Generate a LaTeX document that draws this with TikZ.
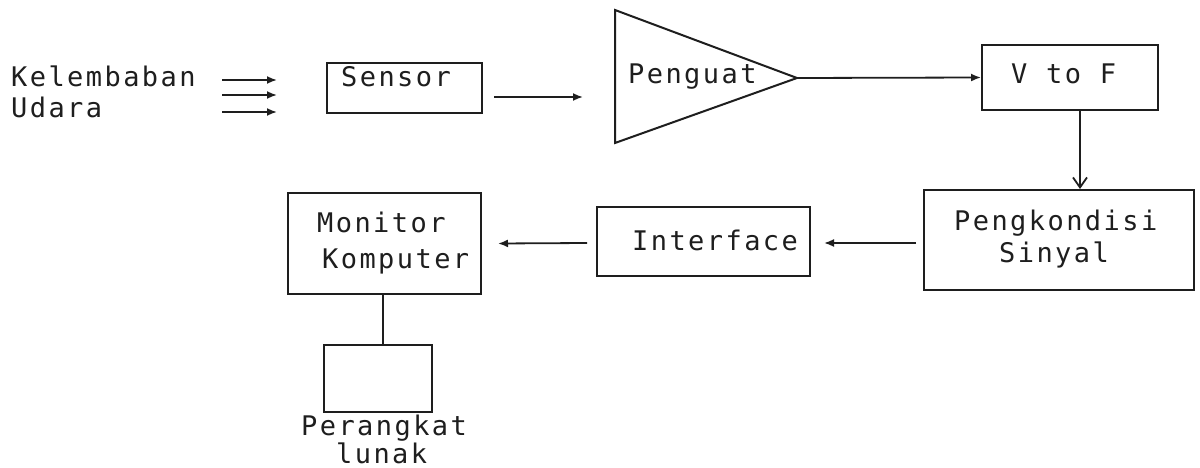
\documentclass[tikz,border=0pt]{standalone}
\usepackage{fontspec}
\newfontfamily\dm[LetterSpace=9]{DejaVu Sans Mono}
\usetikzlibrary{arrows.meta,calc}
\definecolor{ink}{HTML}{1E1E1E}
\begin{document}
\begin{tikzpicture}[x=1pt,y=-1pt,
  ln/.style={draw=ink,line width=2pt},
  boxst/.style={ln,rectangle,inner sep=0pt},
  arr/.style={ln,line width=1.8pt,-{Latex[length=10pt,width=8pt]}},
  barb/.style={ln,line width=1.8pt,-{Straight Barb[length=10pt,width=14pt,line width=1.8pt]}},
  txt/.style={anchor=base west,inner sep=0pt,text=ink,font=\dm\fontsize{27}{33}\selectfont}]
\useasboundingbox (0,0) rectangle (1200,468);
\fill[white] (0,0) rectangle (1200,468);

% input text
\node[txt] (kel) at (11,86.5) {Kelembaban};
\node[txt] (uda) at (11,118) {Udara};
\coordinate (i1s) at (222,80);  \coordinate (i1e) at (277,80);
\coordinate (i2s) at (222,95);  \coordinate (i2e) at (277,95);
\coordinate (i3s) at (222,112); \coordinate (i3e) at (277,112);
\draw[arr] (i1s) -- (i1e);
\draw[arr] (i2s) -- (i2e);
\draw[arr] (i3s) -- (i3e);

% sensor
\node[boxst,minimum width=155pt,minimum height=50pt] (sen) at (404.5,88) {};
\node[txt] (sent) at (341,87) {Sensor};

% penguat triangle
\coordinate (pA) at (615,10);
\coordinate (pB) at (615,143);
\coordinate (pC) at (797,78);
\draw[ln,line join=miter] (pA) -- (pC) -- (pB) -- cycle;
\node[txt] (pent) at (628,84) {Penguat};
\coordinate (pin) at (583,97);
\draw[arr] ($(sen.east)+(11,9)$) -- (pin);

% V to F
\node[boxst,minimum width=176pt,minimum height=65pt] (vtf) at (1070,77.5) {};
\node[txt] (vtft) at (1011,84) {V to F};
\draw[arr] (pC) -- (vtf.west);

% Pengkondisi Sinyal
\node[boxst,minimum width=270pt,minimum height=100pt] (pks) at (1059,240) {};
\node[txt] (pkst1) at (954,230) {Pengkondisi};
\node[txt] (pkst2) at (999,262) {Sinyal};
\draw[barb] ([xshift=10pt]vtf.south) -- ([xshift=10pt]vtf.south |- pks.north);

% Interface
\node[boxst,minimum width=213pt,minimum height=69pt] (itf) at (703.5,241.5) {};
\node[txt] (itft) at (632,250) {Interface};
\draw[arr] ($(pks.west)+(-7,3)$) -- ($(itf.east)+(13,1.5)$);

% Monitor Komputer
\node[boxst,minimum width=193pt,minimum height=101pt] (mon) at (384.5,243.5) {};
\node[txt] (mont1) at (317,233) {Monitor};
\node[txt] (mont2) at (322,268) {Komputer};
\draw[arr] ($(itf.west)+(-9,1.5)$) -- ($(mon.east)+(16,0)$);

% Perangkat lunak
\node[boxst,minimum width=108pt,minimum height=67pt] (sw) at (378,378.5) {};
\draw[ln] ([xshift=-1.5pt]mon.south) -- ([xshift=-1.5pt]mon.south |- sw.north);
\node[txt] (swt1) at (301,435) {Perangkat};
\node[txt] (swt2) at (336,463) {lunak};
\end{tikzpicture}
\end{document}
